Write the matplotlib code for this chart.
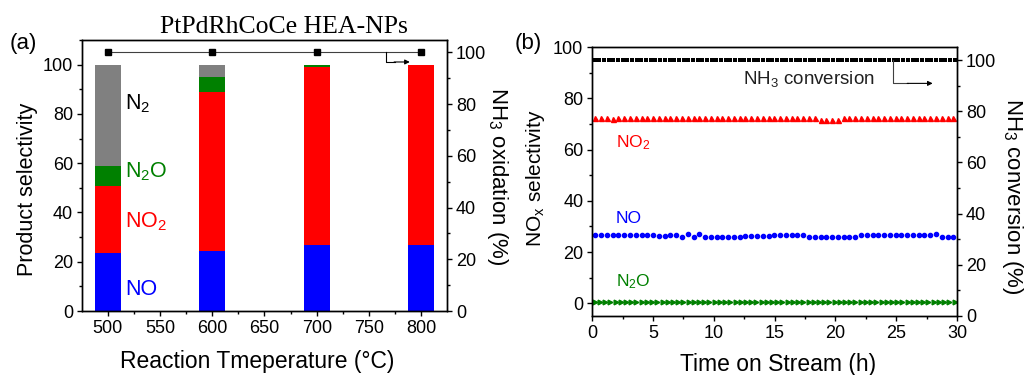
import numpy as np
import matplotlib
matplotlib.use("Agg")
import matplotlib.pyplot as plt
from matplotlib.ticker import MultipleLocator

plt.rcParams['font.family'] = ['Liberation Sans', 'DejaVu Sans']
plt.rcParams['mathtext.default'] = 'regular'

# ---------------- (a) product selectivity vs temperature ----------------
temps = [500, 600, 700, 800]
sel_no = [23.4, 24.5, 26.7, 26.9]
sel_no2 = [27.5, 64.5, 72.3, 73.1]
sel_n2o = [7.8, 5.8, 1.0, 0.0]
sel_n2 = [41.3, 5.2, 0.0, 0.0]
nh3_oxidation = [100, 100, 100, 100]

# ---------------- (b) stability test over time on stream ----------------
conv_pct = [100.0] * 78
no2_sel = [72.4, 72.4, 72.4, 72.1, 72.4, 72.4, 72.4, 72.4, 72.4, 72.4,
           72.4, 72.4, 72.4, 72.4, 72.4, 72.4, 72.4, 72.4, 72.4, 72.4,
           72.4, 72.4, 72.4, 72.4, 72.4, 72.4, 72.2, 72.2, 72.2, 72.2,
           72.2, 72.2, 72.2, 72.2, 72.2, 72.2, 72.2, 72.2, 72.2, 71.7,
           71.7, 71.7, 71.7, 72.2, 72.2, 72.2, 72.2, 72.2, 72.2, 72.2,
           72.2, 72.2, 72.2, 72.2, 72.2, 72.2, 72.2, 72.2, 72.2, 72.2,
           72.2, 72.2, 72.2]
no_sel = [26.6, 26.6, 26.6, 26.6, 26.6, 26.6, 26.6, 26.6, 26.6, 26.6,
          26.6, 26.3, 26.2, 26.7, 26.8, 25.9, 27.0, 25.7, 27.1, 26.0,
          26.0, 26.0, 26.0, 26.0, 26.0, 26.0, 26.3, 26.3, 26.3, 26.3,
          26.3, 26.6, 26.6, 26.6, 26.6, 26.6, 26.6, 26.0, 26.0, 26.0,
          26.0, 26.0, 26.0, 26.0, 26.0, 26.0, 26.8, 26.8, 26.8, 26.8,
          26.8, 26.8, 26.8, 26.8, 26.8, 26.8, 26.8, 26.8, 26.8, 27.0,
          25.9, 25.9, 25.9]
n2o_sel = [0.6] * 70

t_conv = np.linspace(0.2, 29.8, len(conv_pct))
t_no2 = np.linspace(0.25, 29.7, len(no2_sel))
t_no = np.linspace(0.25, 29.7, len(no_sel))
t_n2o = np.linspace(0.2, 29.8, len(n2o_sel))

C_NO, C_NO2, C_N2O, C_N2 = '#0000ff', '#ff0000', '#008000', '#808080'

W, H = 1028, 375
fig = plt.figure(figsize=(W / 100, H / 100), dpi=100)


def frame(px_left, px_top, px_right, px_bottom):
    return [px_left / W, 1 - px_bottom / H, (px_right - px_left) / W,
            (px_bottom - px_top) / H]


def style(ax):
    ax.tick_params(which='both', direction='out', width=1, labelsize=13,
                   pad=3)
    ax.tick_params(which='major', length=3.5)
    ax.tick_params(which='minor', length=2)
    for s in ax.spines.values():
        s.set_linewidth(1)


# ---- panel (a)
axa = fig.add_axes(frame(82, 40, 447, 311))
bottom = np.zeros(4)
for vals, col in [(sel_no, C_NO), (sel_no2, C_NO2), (sel_n2o, C_N2O),
                  (sel_n2, C_N2)]:
    axa.bar(temps, vals, width=25, bottom=bottom, color=col, linewidth=0)
    bottom += np.array(vals)
axa.set_xlim(475.4, 824.6)
axa.set_ylim(0, 110)
axa.xaxis.set_major_locator(MultipleLocator(50))
axa.xaxis.set_minor_locator(MultipleLocator(25))
axa.yaxis.set_minor_locator(MultipleLocator(10))
axa.set_yticks([0, 20, 40, 60, 80, 100])
style(axa)
axa.set_xlabel('Reaction Tmeperature (°C)', fontsize=16.5, va='center')
axa.xaxis.set_label_coords(0.48, -0.188)
axa.set_ylabel('Product selectivity', fontsize=15.5, va='center')
axa.yaxis.set_label_coords(-0.148, 0.45)

axa.text(516.5, 81.8, 'N$_2$', color='black', fontsize=15.5)
axa.text(516.5, 54.3, 'N$_2$O', color=C_N2O, fontsize=15.5)
axa.text(516.5, 33.8, 'NO$_2$', color=C_NO2, fontsize=15.5)
axa.text(516.5, 6.6, 'NO', color=C_NO, fontsize=15.5)

axa2 = axa.twinx()
axa2.plot(temps, nh3_oxidation, color='#404040', lw=0.8, marker='s', ms=4,
          mfc='black', mec='black')
axa2.set_ylim(0, 104.8)
axa2.yaxis.set_minor_locator(MultipleLocator(10))
axa2.set_yticks([0, 20, 40, 60, 80, 100])
style(axa2)
axa2.set_ylabel('NH$_3$ oxidation (%)', fontsize=16, rotation=270,
                va='center')
axa2.yaxis.set_label_coords(1.137, 0.496)
axa2.plot([766, 766, 775], [100, 96.3, 96.3], color='black', lw=0.8)
axa2.annotate('', xy=(789, 96.3), xytext=(774, 96.3),
              arrowprops=dict(arrowstyle='-|>', color='black', lw=0.8,
                              mutation_scale=7, shrinkA=0, shrinkB=0))

fig.text(284 / W, 1 - 33 / H, 'PtPdRhCoCe HEA-NPs', family='Liberation Serif',
         fontsize=18.5, ha='center', va='baseline')
fig.text(10 / W, 1 - 43 / H, '(a)', fontsize=16, ha='left', va='center')

# ---- panel (b)
axb = fig.add_axes(frame(592.3, 47.3, 957, 316))
axb.plot(t_no2, no2_sel, ls='none', marker='^', ms=3.6, color=C_NO2,
         mec=C_NO2)
axb.plot(t_no, no_sel, ls='none', marker='o', ms=3, color=C_NO, mec=C_NO)
axb.plot(t_n2o, n2o_sel, ls='none', marker='>', ms=3.4, color=C_N2O,
         mec=C_N2O)
axb.set_xlim(0, 30)
axb.set_ylim(-5, 100)
axb.xaxis.set_major_locator(MultipleLocator(5))
axb.xaxis.set_minor_locator(MultipleLocator(2.5))
axb.yaxis.set_major_locator(MultipleLocator(20))
axb.yaxis.set_minor_locator(MultipleLocator(10))
style(axb)
axb.set_xlabel('Time on Stream (h)', fontsize=16.5, va='center')
axb.xaxis.set_label_coords(0.509, -0.182)
axb.set_ylabel('NO$_x$ selectivity', fontsize=15, va='center')
axb.yaxis.set_label_coords(-0.157, 0.512)

axb.text(1.95, 60.8, 'NO$_2$', color=C_NO2, fontsize=12.5)
axb.text(1.95, 31.5, 'NO', color=C_NO, fontsize=12.5)
axb.text(1.95, 6.8, 'N$_2$O', color=C_N2O, fontsize=12.5)

axb2 = axb.twinx()
axb2.plot(t_conv, conv_pct, ls='none', marker='s', ms=2.2, mew=0,
          color='black')
axb2.set_ylim(0, 105)
axb2.yaxis.set_major_locator(MultipleLocator(20))
axb2.yaxis.set_minor_locator(MultipleLocator(10))
style(axb2)
axb2.set_ylabel('NH$_3$ conversion (%)', fontsize=16, rotation=270,
                va='center')
axb2.yaxis.set_label_coords(1.151, 0.445)
axb2.text(12.4, 90.6, 'NH$_3$ conversion', fontsize=13.5, color='#202020')
axb2.plot([24.7, 24.7, 26.0], [100, 90.9, 90.9], color='#404040', lw=0.8)
axb2.annotate('', xy=(28.0, 90.9), xytext=(25.9, 90.9),
              arrowprops=dict(arrowstyle='-|>', color='black', lw=0.8,
                              mutation_scale=7, shrinkA=0, shrinkB=0))

fig.text(515 / W, 1 - 44 / H, '(b)', fontsize=16, ha='left', va='center')

fig.savefig('out.png', dpi=100)
